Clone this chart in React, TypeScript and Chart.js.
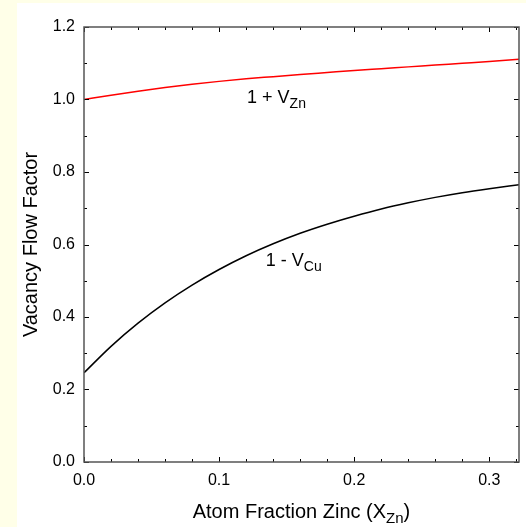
import React, { useEffect, useRef } from 'react';
import { Chart, registerables } from 'chart.js';

Chart.register(...registerables);

// ---- data ----
const xValues = [0, 0.02, 0.04, 0.06, 0.08, 0.1, 0.12, 0.14, 0.16, 0.18, 0.2, 0.22, 0.24, 0.26, 0.28, 0.3, 0.322];
const oneMinusVCu = [0.246, 0.319, 0.383, 0.439, 0.488, 0.531, 0.569, 0.602, 0.631, 0.656, 0.678, 0.698, 0.715, 0.73, 0.743, 0.754, 0.765];
const onePlusVZn = [1.0, 1.012, 1.023, 1.033, 1.042, 1.05, 1.057, 1.063, 1.069, 1.0745, 1.08, 1.085, 1.09, 1.095, 1.1, 1.105, 1.111];

const xMajorTicks = [0, 0.1, 0.2, 0.3];
const xMinorTicks = [0.02, 0.04, 0.06, 0.08, 0.12, 0.14, 0.16, 0.18, 0.22, 0.24, 0.26, 0.28, 0.32];
const yMajorTicks = [0, 0.2, 0.4, 0.6, 0.8, 1.0, 1.2];
const yMinorTicks = [0.1, 0.3, 0.5, 0.7, 0.9, 1.1];

const yAxisTitle = 'Vacancy Flow Factor';
const xAxisTitle = ['Atom Fraction Zinc (X', 'Zn', ')'];
const curveLabels = [
  { main: '1 + V', sub: 'Zn', x: 0.1207, y: 0.99 },
  { main: '1 - V', sub: 'Cu', x: 0.1346, y: 0.5407 },
];

const FONT = '"Liberation Sans", Arial, Helvetica, sans-serif';
const BG_YELLOW = '#FFFFE8';

const decorPlugin = {
  id: 'decor',
  beforeDraw(chart: any) {
    const { ctx, width, height } = chart;
    ctx.save();
    ctx.fillStyle = BG_YELLOW;
    ctx.fillRect(0, 0, width, height);
    ctx.fillStyle = '#FFFFFF';
    ctx.fillRect(17, 3, width - 17, height - 3);
    ctx.restore();
  },
  afterDatasetsDraw(chart: any) {
    const { ctx, chartArea } = chart;
    const xs = chart.scales.x;
    const ys = chart.scales.y;
    const { left, right, top, bottom } = chartArea;
    ctx.save();
    // ticks (inward, all sides)
    ctx.strokeStyle = '#000';
    ctx.lineWidth = 1;
    const drawX = (vals: number[], len: number) => {
      vals.forEach((v) => {
        const px = Math.round(xs.getPixelForValue(v)) + 0.5;
        ctx.beginPath();
        ctx.moveTo(px, bottom);
        ctx.lineTo(px, bottom - len);
        ctx.moveTo(px, top);
        ctx.lineTo(px, top + len);
        ctx.stroke();
      });
    };
    const drawY = (vals: number[], len: number) => {
      vals.forEach((v) => {
        const py = Math.round(ys.getPixelForValue(v)) + 0.5;
        ctx.beginPath();
        ctx.moveTo(left, py);
        ctx.lineTo(left + len, py);
        ctx.moveTo(right, py);
        ctx.lineTo(right - len, py);
        ctx.stroke();
      });
    };
    drawX(xMajorTicks, 5);
    drawX(xMinorTicks, 3);
    drawY(yMajorTicks, 5);
    drawY(yMinorTicks, 3);
    // frame
    ctx.strokeStyle = '#555';
    ctx.lineWidth = 1.5;
    ctx.strokeRect(left, top, right - left, bottom - top);

    // curve labels
    ctx.fillStyle = '#000';
    ctx.textBaseline = 'alphabetic';
    ctx.textAlign = 'left';
    curveLabels.forEach((l) => {
      const px = xs.getPixelForValue(l.x);
      const py = ys.getPixelForValue(l.y);
      ctx.font = `18px ${FONT}`;
      ctx.fillText(l.main, px, py);
      const w = ctx.measureText(l.main).width;
      ctx.font = `14px ${FONT}`;
      ctx.fillText(l.sub, px + w, py + 5);
    });

    // x axis title with subscript
    ctx.font = `20px ${FONT}`;
    const w1 = ctx.measureText(xAxisTitle[0]).width;
    const w3 = ctx.measureText(xAxisTitle[2]).width;
    ctx.font = `15px ${FONT}`;
    const w2 = ctx.measureText(xAxisTitle[1]).width;
    const total = w1 + w2 + w3;
    const cx = (left + right) / 2;
    const baseY = 518;
    const x0 = cx - total / 2;
    ctx.font = `20px ${FONT}`;
    ctx.fillText(xAxisTitle[0], x0, baseY);
    ctx.font = `15px ${FONT}`;
    ctx.fillText(xAxisTitle[1], x0 + w1, baseY + 5);
    ctx.font = `20px ${FONT}`;
    ctx.fillText(xAxisTitle[2], x0 + w1 + w2, baseY);
    ctx.restore();
  },
};

export default function App() {
  const canvasRef = useRef<HTMLCanvasElement | null>(null);

  useEffect(() => {
    document.body.style.margin = '0';
    const canvas = canvasRef.current;
    if (!canvas) return;
    const chart = new Chart(canvas, {
      type: 'line',
      data: {
        datasets: [
          {
            label: '1 - V_Cu',
            data: xValues.map((x, i) => ({ x, y: oneMinusVCu[i] })),
            borderColor: '#000000',
            borderWidth: 1.5,
            pointRadius: 0,
            cubicInterpolationMode: 'monotone',
            fill: false,
          },
          {
            label: '1 + V_Zn',
            data: xValues.map((x, i) => ({ x, y: onePlusVZn[i] })),
            borderColor: '#FF0000',
            borderWidth: 1.5,
            pointRadius: 0,
            cubicInterpolationMode: 'monotone',
            fill: false,
          },
        ],
      },
      options: {
        animation: false,
        responsive: false,
        devicePixelRatio: 1,
        layout: { padding: { top: 27, right: 7, left: 0, bottom: 0 } },
        plugins: {
          legend: { display: false },
          tooltip: { enabled: false },
        },
        scales: {
          x: {
            type: 'linear',
            min: 0,
            max: 0.322,
            grid: { display: false, drawTicks: false },
            border: { display: false },
            ticks: {
              stepSize: 0.1,
              includeBounds: false,
              padding: 11,
              color: '#000',
              font: { family: FONT, size: 16, lineHeight: 1 },
              maxRotation: 0,
              callback: (v: any) => Number(v).toFixed(1),
            },
            afterFit: (s: any) => {
              s.height = 65;
            },
          },
          y: {
            type: 'linear',
            min: 0,
            max: 1.2,
            grid: { display: false, drawTicks: false },
            border: { display: false },
            ticks: {
              stepSize: 0.2,
              padding: 9,
              color: '#000',
              font: { family: FONT, size: 16, lineHeight: 1 },
              callback: (v: any) => Number(v).toFixed(1),
            },
            title: {
              display: true,
              text: yAxisTitle,
              color: '#000',
              font: { family: FONT, size: 20, lineHeight: 1 },
              padding: { top: 21, bottom: 0 },
            },
            afterFit: (s: any) => {
              s.width = 84;
            },
          },
        },
      },
      plugins: [decorPlugin],
    } as any);
    return () => chart.destroy();
  }, []);

  return (
    <div style={{ position: 'fixed', left: 0, top: 0, width: 526, height: 527 }}>
      <canvas ref={canvasRef} width={526} height={527} style={{ display: 'block', width: 526, height: 527 }} />
    </div>
  );
}
